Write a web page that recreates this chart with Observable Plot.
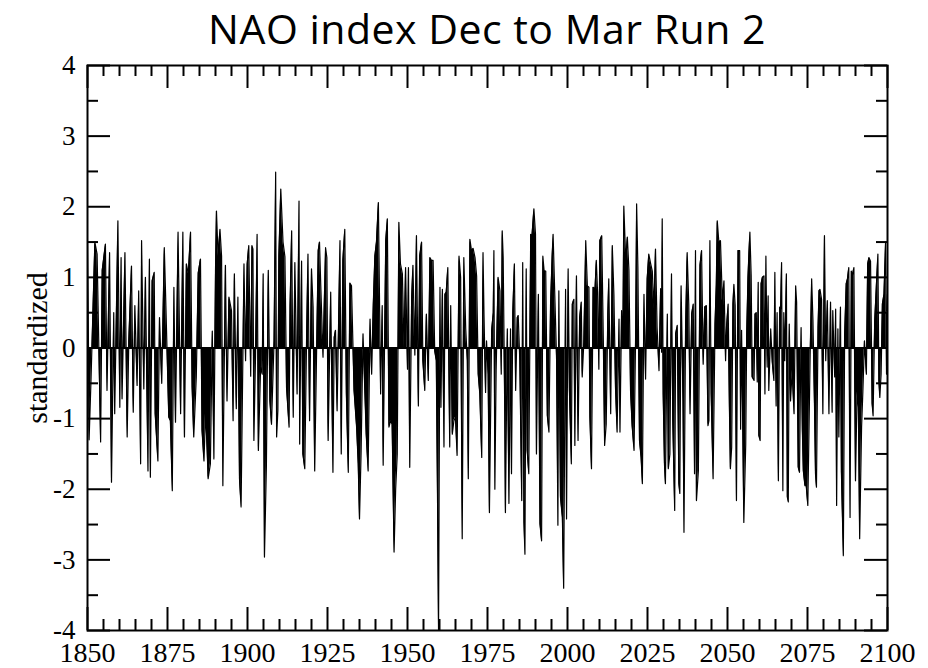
<!DOCTYPE html>
<html><head><meta charset="utf-8">
<script src="https://cdn.jsdelivr.net/npm/d3@7"></script>
<script src="https://cdn.jsdelivr.net/npm/@observablehq/plot@0.6"></script>
<style>
body{margin:0;background:#fff;width:928px;height:668px;position:relative;overflow:hidden}
#title{position:absolute;left:87px;width:800px;top:0;text-align:center;font-family:"Open Sans";font-size:41px;letter-spacing:0.5px;line-height:56px;color:#000;white-space:nowrap}
#chart{position:absolute;left:0;top:56px}
</style></head><body>
<div id="title">NAO index Dec to Mar Run 2</div>
<div id="chart"></div>
<script>
// [time (years), standardized NAO index], one array per half century
const nao1850 = [[1850.0,1.5],[1850.2,0.65],[1850.5,-1.3],[1851.1,-0.45],[1852.3,1.5],[1853.0,1.33],[1854.1,-1.33],[1854.6,1.1],[1855.6,1.47],[1856.1,-0.6],[1856.9,1.35],[1857.5,-1.9],[1858.2,0.5],[1858.5,-0.93],[1859.5,1.8],[1860.1,-0.84],[1860.5,1.28],[1860.8,-0.72],[1861.7,1.35],[1862.4,-1.26],[1862.9,0.1],[1863.75,1.16],[1864.3,-0.91],[1864.8,0.6],[1865.5,-0.53],[1866.0,0.81],[1866.6,-1.64],[1866.9,1.52],[1867.6,-0.58],[1868.1,1.0],[1868.9,-1.74],[1869.35,1.26],[1869.65,-1.83],[1870.2,0.95],[1870.85,1.07],[1871.15,-0.93],[1872.0,-1.6],[1872.5,0.43],[1873.2,-0.5],[1874.0,1.42],[1874.4,0.76],[1875.4,-0.98],[1875.9,-1.03],[1876.5,-2.02],[1877.0,0.86],[1877.5,-1.05],[1878.3,1.64],[1879.1,-0.93],[1879.8,1.64],[1880.3,-1.26],[1880.9,1.19],[1881.5,1.05],[1882.2,1.64],[1882.7,-0.56],[1883.2,-1.26],[1884.0,-0.41],[1884.6,1.06],[1885.3,1.26],[1885.8,-1.17],[1886.4,-1.6],[1886.9,-0.9],[1887.4,-1.45],[1887.7,-1.85],[1888.4,-1.64],[1889.0,0.24],[1889.5,-1.57],[1890.0,1.09],[1890.3,1.94],[1890.8,1.3],[1891.4,1.68],[1891.9,1.3],[1892.3,-1.95],[1893.1,1.17],[1893.6,-0.75],[1894.2,0.72],[1895.0,0.53],[1895.5,-1.03],[1895.9,1.05],[1896.5,-0.86],[1897.0,0.72],[1897.5,-1.85],[1898.0,-2.25],[1898.9,1.19],[1899.4,-0.18]];
const nao1900 = [[1899.9,1.19],[1900.4,1.45],[1901.0,-0.4],[1901.4,1.45],[1901.7,1.4],[1902.0,-1.31],[1902.5,-0.13],[1903.0,1.61],[1903.4,-1.45],[1904.1,-0.27],[1904.6,-0.37],[1904.9,1.05],[1905.3,-2.96],[1905.9,-1.69],[1906.5,1.1],[1907.0,-0.75],[1907.5,-1.08],[1908.3,0.1],[1908.8,2.49],[1909.1,-1.26],[1909.5,-0.88],[1909.8,1.3],[1910.4,2.25],[1911.1,1.5],[1911.7,1.29],[1912.2,-0.56],[1913.0,-1.12],[1913.3,0.6],[1913.8,1.66],[1914.3,-0.98],[1914.8,1.21],[1915.5,-0.65],[1916.1,2.08],[1916.3,-1.36],[1916.9,1.23],[1917.3,-1.5],[1917.9,-1.71],[1918.5,0.25],[1918.9,1.33],[1919.4,-1.03],[1920.0,1.12],[1920.5,0.58],[1921.0,-1.74],[1921.5,-0.32],[1922.1,1.38],[1922.5,1.5],[1922.9,0.88],[1923.6,-0.13],[1924.4,1.42],[1924.8,1.28],[1925.2,-1.31],[1926.0,0.79],[1926.7,-1.76],[1927.1,0.15],[1927.5,0.25],[1928.0,-0.89],[1928.9,1.52],[1929.3,-1.5],[1929.8,1.24],[1930.4,1.68],[1930.9,-0.65],[1931.5,-1.76],[1932.0,0.92],[1932.5,0.88],[1933.3,-0.6],[1934.1,-1.12],[1934.6,-1.64],[1935.0,-2.42],[1935.5,-1.48],[1936.1,0.2],[1936.7,-0.65],[1937.1,-1.22],[1937.7,-1.74],[1938.3,0.41],[1938.8,-0.37],[1939.3,0.6],[1939.8,1.3],[1940.3,1.5],[1940.9,2.06],[1941.6,-0.65],[1942.1,0.6],[1942.4,-1.66],[1943.2,1.52],[1943.7,1.83],[1944.2,-1.12],[1944.7,-1.03],[1945.2,-1.08],[1945.8,-2.89],[1946.3,-2.0],[1946.8,-1.5],[1947.3,1.78],[1947.8,1.19],[1948.4,1.05],[1948.9,0.0],[1949.4,1.14]];
const nao1950 = [[1950.0,-0.3],[1950.3,1.14],[1950.7,-1.69],[1951.3,0.72],[1951.7,1.17],[1952.3,-0.1],[1952.8,1.59],[1953.4,-0.82],[1953.8,1.3],[1954.4,1.5],[1954.8,-0.18],[1955.4,-0.6],[1955.9,0.48],[1956.5,-0.46],[1957.0,1.28],[1957.5,1.24],[1958.0,1.24],[1958.5,-0.04],[1959.0,-0.18],[1959.4,-2.2],[1959.7,-4.0],[1960.15,0.86],[1960.45,-0.84],[1960.9,0.83],[1961.4,-1.4],[1961.7,0.76],[1962.1,0.79],[1962.6,1.14],[1963.2,-1.4],[1963.5,0.6],[1964.0,-1.22],[1964.5,-1.03],[1965.0,-0.98],[1965.5,-1.52],[1966.1,1.3],[1966.6,1.0],[1967.1,-2.7],[1967.6,1.28],[1968.2,0.27],[1968.7,-0.18],[1969.0,-1.85],[1969.5,1.54],[1970.0,1.38],[1970.5,1.41],[1971.1,1.28],[1971.6,1.02],[1972.1,-0.37],[1972.6,-0.65],[1973.2,-1.55],[1973.6,1.35],[1973.9,0.48],[1974.4,-0.63],[1974.7,0.1],[1975.2,-0.37],[1975.6,-2.33],[1976.3,0.25],[1976.8,0.5],[1977.0,1.38],[1977.3,-2.0],[1977.7,-0.32],[1978.3,1.0],[1978.9,0.81],[1979.3,-0.37],[1979.6,1.66],[1979.9,1.28],[1980.4,-0.93],[1980.6,-2.33],[1981.2,0.27],[1981.7,-2.2],[1982.2,0.27],[1982.5,-1.78],[1982.9,0.5],[1983.4,1.19],[1983.8,-0.6],[1984.3,0.43],[1984.6,0.46],[1985.1,-0.18],[1985.7,-2.16],[1986.0,1.21],[1986.4,-2.47],[1986.7,-2.92],[1987.1,1.12],[1987.4,-1.45],[1987.9,-1.78],[1988.5,1.61],[1988.9,1.59],[1989.5,1.97],[1990.0,1.61],[1990.3,-1.5],[1990.9,0.76],[1991.4,-2.49],[1991.9,-2.73],[1992.3,1.3],[1992.7,1.09],[1993.2,1.09],[1993.7,-0.96],[1994.2,-1.19],[1994.7,0.6],[1995.2,1.3],[1995.5,1.61],[1996.1,0.64],[1996.6,-0.18],[1997.0,-2.51],[1997.3,0.81],[1997.8,-2.11],[1998.4,-2.4],[1998.8,-3.4],[1999.4,0.83]];
const nao2000 = [[1999.7,-2.42],[2000.2,1.12],[2000.6,-0.6],[2001.2,-1.64],[2001.5,0.62],[2002.0,0.69],[2002.3,-1.38],[2002.8,1.02],[2003.3,-1.31],[2003.8,0.43],[2004.3,0.65],[2004.6,-0.41],[2005.1,0.08],[2005.7,1.52],[2006.2,0.88],[2006.7,0.86],[2007.0,-0.98],[2007.5,-1.71],[2008.0,0.86],[2008.6,0.84],[2009.0,1.24],[2009.4,0.79],[2009.8,-0.3],[2010.1,1.52],[2010.7,1.59],[2011.2,0.1],[2011.6,-1.38],[2012.1,-1.08],[2012.6,0.48],[2012.9,0.98],[2013.5,-0.93],[2014.0,1.45],[2014.5,0.76],[2015.0,-0.56],[2015.5,-1.19],[2016.1,0.41],[2016.4,-1.19],[2016.9,0.53],[2017.3,0.08],[2017.6,2.01],[2018.2,1.24],[2018.7,1.57],[2019.2,1.1],[2019.7,-0.6],[2020.2,-1.1],[2020.8,-1.45],[2021.3,0.22],[2021.6,2.04],[2022.0,1.14],[2022.5,-1.31],[2023.0,-1.55],[2023.4,-1.92],[2023.9,0.76],[2024.4,-0.44],[2024.9,0.98],[2025.4,1.33],[2026.0,1.19],[2026.5,1.09],[2027.0,0.55],[2027.5,1.4],[2028.0,0.29],[2028.6,-0.32],[2029.1,0.84],[2029.4,-0.06],[2029.6,1.83],[2029.9,-0.65],[2030.3,-1.64],[2030.6,-1.92],[2031.2,0.48],[2031.5,-1.71],[2032.0,-1.5],[2032.5,1.05],[2032.9,-1.03],[2033.5,-2.3],[2033.8,0.2],[2034.3,0.32],[2034.8,-1.92],[2035.1,-2.06],[2035.5,0.88],[2036.1,-0.75],[2036.4,-2.61],[2036.9,0.29],[2037.4,1.35],[2037.9,0.62],[2038.3,-0.93],[2038.8,0.48],[2039.3,0.62],[2039.7,-1.78],[2040.0,1.38],[2040.3,-2.16],[2040.9,-1.74],[2041.4,1.17],[2041.9,1.38],[2042.4,-0.23],[2042.9,0.58],[2043.4,0.6],[2043.9,-1.1],[2044.2,-1.03],[2044.5,1.52],[2044.9,-0.65],[2045.5,-1.85],[2046.1,0.34],[2046.5,0.9],[2046.8,1.8],[2047.3,1.5],[2047.8,1.52],[2048.4,0.67],[2048.9,0.95],[2049.4,-0.18]];
const nao2050 = [[2049.7,0.3],[2050.2,0.62],[2050.6,-0.84],[2050.9,-1.71],[2051.3,-1.41],[2051.7,0.62],[2052.0,0.9],[2052.4,0.6],[2052.8,-2.16],[2053.3,1.38],[2053.8,1.38],[2054.1,-1.15],[2054.4,0.25],[2054.8,-1.22],[2055.1,-2.47],[2055.7,-1.36],[2056.0,0.2],[2056.4,1.0],[2056.7,1.35],[2057.0,1.64],[2057.4,1.02],[2057.7,-0.41],[2058.3,-0.46],[2058.6,0.48],[2059.0,0.5],[2059.3,-0.48],[2059.6,0.93],[2059.8,-1.24],[2060.2,-1.31],[2060.5,0.91],[2060.9,1.0],[2061.4,1.02],[2061.7,-0.65],[2062.0,1.3],[2062.4,-0.27],[2062.7,0.74],[2062.9,-0.6],[2063.5,0.27],[2064.0,-0.2],[2064.5,-0.46],[2064.8,1.07],[2065.2,-0.82],[2065.5,0.5],[2065.9,-1.88],[2066.3,0.58],[2066.6,0.55],[2066.9,1.21],[2067.3,-2.02],[2067.6,0.5],[2067.9,-0.18],[2068.4,1.05],[2068.7,-2.11],[2069.0,-2.18],[2069.3,0.34],[2069.7,-0.75],[2070.2,-0.32],[2070.8,-0.93],[2071.3,0.88],[2071.6,0.65],[2072.1,-1.69],[2072.5,-1.76],[2073.0,0.29],[2073.4,-1.17],[2073.7,-1.74],[2074.2,-1.95],[2074.6,-1.95],[2075.1,-2.23],[2075.4,-1.36],[2075.8,-0.18],[2076.3,0.98],[2076.7,0.39],[2077.2,-0.84],[2077.5,-1.78],[2077.8,-1.97],[2078.3,0.29],[2078.6,0.81],[2078.9,0.83],[2079.4,0.69],[2079.8,-0.93],[2080.3,1.59],[2080.7,-0.18],[2081.2,0.67],[2081.7,-0.93],[2082.2,0.65],[2082.7,-0.91],[2082.9,0.53],[2083.5,-0.41],[2083.8,0.55],[2084.1,-2.23],[2084.5,0.27],[2084.8,-1.26],[2085.3,0.58],[2085.6,-1.76],[2086.2,-2.94],[2086.6,0.17],[2087.1,0.91],[2087.5,0.98],[2087.9,1.14],[2088.3,-2.4],[2088.7,1.09],[2089.0,1.02],[2089.5,1.14],[2090.0,-1.88],[2090.5,-0.62],[2090.9,-0.84],[2091.3,-2.7],[2091.9,-1.12],[2092.3,-0.62],[2092.8,0.1],[2093.4,-0.37],[2093.8,1.19],[2094.2,1.28],[2094.7,1.23],[2095.2,-0.79],[2095.5,-0.96],[2096.0,0.38],[2096.5,0.86],[2097.0,1.33],[2097.3,-0.46],[2097.6,-0.7],[2098.0,-0.37],[2098.4,0.62],[2098.9,0.76],[2099.4,1.5],[2099.7,-0.37],[2100.0,0.76]];
const xMajorTicks = [1850,1875,1900,1925,1950,1975,2000,2025,2050,2075,2100];
const xMinorTicks = [1855,1860,1865,1870,1880,1885,1890,1895,1905,1910,1915,1920,1930,1935,1940,1945,1955,1960,1965,1970,1980,1985,1990,1995,2005,2010,2015,2020,2030,2035,2040,2045,2055,2060,2065,2070,2080,2085,2090,2095];
const yMajorTicks = [-4,-3,-2,-1,0,1,2,3,4];
const yMinorTicks = [-3.5,-2.5,-1.5,-0.5,0.5,1.5,2.5,3.5];
const yLabel = "standardized";

const data = [...nao1850, ...nao1900, ...nao1950, ...nao2000, ...nao2050].map(([t, v]) => ({t, v}));

const W = 928, H = 612, mt = 9, mb = 38, ml = 87, mr = 41;
const fh = H - mt - mb, fw = W - ml - mr;
const major = 23, minor = 11, sw = 2;

const chart = Plot.plot({
  width: W, height: H,
  marginTop: mt, marginBottom: mb, marginLeft: ml, marginRight: mr,
  x: {domain: [1850, 2100]},
  y: {domain: [-4, 4]},
  style: {fontFamily: "'Liberation Serif', 'Times New Roman', serif", fontSize: "28px", color: "#000", background: "#fff", overflow: "visible"},
  marks: [
    Plot.areaY(data, {x: "t", y: "v", fill: "#000", clip: true}),
    Plot.lineY(data, {x: "t", y: "v", stroke: "#000", strokeWidth: 1.2, clip: true}),
    Plot.ruleY([0], {stroke: "#000", strokeWidth: 2}),
    Plot.tickX(xMajorTicks, {x: d => d, insetTop: fh - major, stroke: "#000", strokeWidth: sw}),
    Plot.tickX(xMajorTicks, {x: d => d, insetBottom: fh - major, stroke: "#000", strokeWidth: sw}),
    Plot.tickX(xMinorTicks, {x: d => d, insetTop: fh - minor, stroke: "#000", strokeWidth: sw}),
    Plot.tickX(xMinorTicks, {x: d => d, insetBottom: fh - minor, stroke: "#000", strokeWidth: sw}),
    Plot.tickY(yMajorTicks, {y: d => d, insetRight: fw - major, stroke: "#000", strokeWidth: sw}),
    Plot.tickY(yMajorTicks, {y: d => d, insetLeft: fw - major, stroke: "#000", strokeWidth: sw}),
    Plot.tickY(yMinorTicks, {y: d => d, insetRight: fw - minor, stroke: "#000", strokeWidth: sw}),
    Plot.tickY(yMinorTicks, {y: d => d, insetLeft: fw - minor, stroke: "#000", strokeWidth: sw}),
    Plot.frame({stroke: "#000", strokeWidth: 2}),
    Plot.axisX({ticks: xMajorTicks, tickSize: 0, tickPadding: 12, tickFormat: d => String(d), fontSize: 28, label: null}),
    Plot.axisY({ticks: yMajorTicks, tickSize: 0, tickPadding: 12, tickFormat: d => String(d), fontSize: 27, label: null}),
    Plot.text([yLabel], {text: d => d, frameAnchor: "left", textAnchor: "middle", rotate: -90, dx: -50, fontSize: 30})
  ]
});
document.getElementById("chart").appendChild(chart);
</script>
</body></html>
